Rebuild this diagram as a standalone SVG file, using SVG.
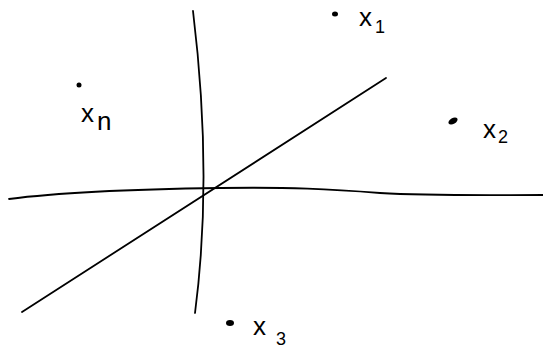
<svg xmlns="http://www.w3.org/2000/svg" width="543" height="348" viewBox="0 0 543 348">
<style>
.ax{fill:none;stroke:#000;stroke-width:1.8;stroke-linecap:round}
.pt{fill:#000}
.lb{font-family:"Liberation Sans",Arial,sans-serif;fill:#000}
.v{font-size:26px}
.s{font-size:18px}
</style>
<rect width="543" height="348" fill="#fff"/>
<g id="axes">
<path class="ax" d="M9,199 C70,191 150,189 220,188 C290,187 330,189 380,193 C430,196 490,195 543,195"/>
<path class="ax" d="M193,11 Q213,175 195,313"/>
<path class="ax" d="M22,312 L386,78"/>
</g>
<g id="x1">
<ellipse class="pt" cx="335" cy="14" rx="3" ry="2.5"/>
<text class="lb" x="359" y="26"><tspan class="v">x</tspan><tspan class="s" dx="3" dy="7">1</tspan></text>
</g>
<g id="x2">
<ellipse class="pt" cx="453" cy="121" rx="5" ry="3" transform="rotate(-30 453 121)"/>
<text class="lb" x="483" y="138"><tspan class="v">x</tspan><tspan class="s" dx="2" dy="5">2</tspan></text>
</g>
<g id="x3">
<ellipse class="pt" cx="230" cy="323" rx="4" ry="3"/>
<text class="lb" x="253" y="335"><tspan class="v">x</tspan><tspan class="s" dx="10" dy="10">3</tspan></text>
</g>
<g id="xn">
<circle class="pt" cx="79" cy="85" r="2.5"/>
<text class="lb" x="81" y="122"><tspan class="v">x</tspan><tspan class="v" dx="3" dy="8">n</tspan></text>
</g>
</svg>
